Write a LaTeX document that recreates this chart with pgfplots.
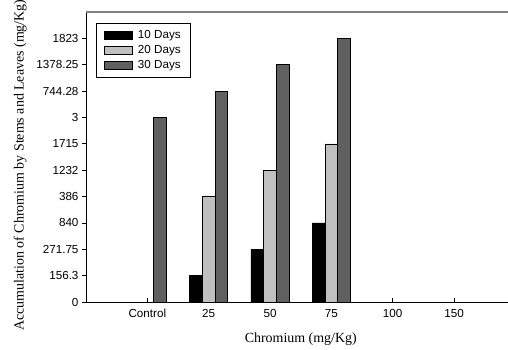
\documentclass[border=0pt]{standalone}
\usepackage{fontspec}
\setmainfont{Liberation Serif}
\setsansfont{Liberation Sans}
\usepackage{pgfplots}
\pgfplotsset{compat=1.18}
\definecolor{lg}{HTML}{C0C0C0}
\definecolor{dg}{HTML}{606060}
\begin{document}
\begin{tikzpicture}
\path[use as bounding box] (0,0) rectangle (508bp,350bp);
\begin{axis}[
  at={(86bp,48bp)}, anchor=south west,
  scale only axis, width=422bp, height=290bp,
  xmin=-1, xmax=5.88, ymin=0, ymax=11,
  axis x line*=bottom, axis y line*=left,
  axis line style={black, line width=1bp},
  ybar=0pt, bar width=12.7bp,
  xtick={0,1,2,3,4,5},
  xticklabels={Control,25,50,75,100,150},
  ytick={0,1,2,3,4,5,6,7,8,9,10},
  yticklabels={0,156.3,271.75,840,386,1232,1715,3,744.28,1378.25,1823},
  xtick align=inside, ytick align=outside,
  major tick length=4bp,
  tick style={black, line width=0.7bp},
  ticklabel style={font=\sffamily\fontsize{11.7}{13}\selectfont},
  xticklabel style={yshift=-4bp},
  /pgf/number format/assume math mode=true,
  xlabel={Chromium (mg/Kg)},
  ylabel={Accumulation of Chromium by Stems and Leaves (mg/Kg)},
  xlabel style={at={(axis description cs:0.509,-0.128)}, anchor=center, font=\fontsize{14}{16}\selectfont},
  ylabel style={at={(axis description cs:-0.156,0.472)}, anchor=center, font=\fontsize{14}{16}\selectfont},
  legend style={at={(axis description cs:0.0237,0.962)}, anchor=north west,
    draw=black, line width=0.8bp, font=\sffamily\fontsize{11.7}{13}\selectfont,
    inner xsep=8bp, inner ysep=5bp, row sep=1.5bp, column sep=3bp},
  legend cell align=left,
  legend image code/.code={\draw[#1,line width=0.6bp] (0bp,-4bp) rectangle (28bp,4bp);},
  clip=false,
]
\addplot[fill=black, draw=black, line width=0.6bp] coordinates {(1,1) (2,2) (3,3)};
\addplot[fill=lg, draw=black, line width=0.6bp] coordinates {(1,4) (2,5) (3,6)};
\addplot[fill=dg, draw=black, line width=0.6bp] coordinates {(0,7) (1,8) (2,9) (3,10)};
\legend{10 Days,20 Days,30 Days}
\draw[gray, line width=1.3bp] (rel axis cs:0,1) -- (rel axis cs:1,1);
\end{axis}
\end{tikzpicture}
\end{document}
